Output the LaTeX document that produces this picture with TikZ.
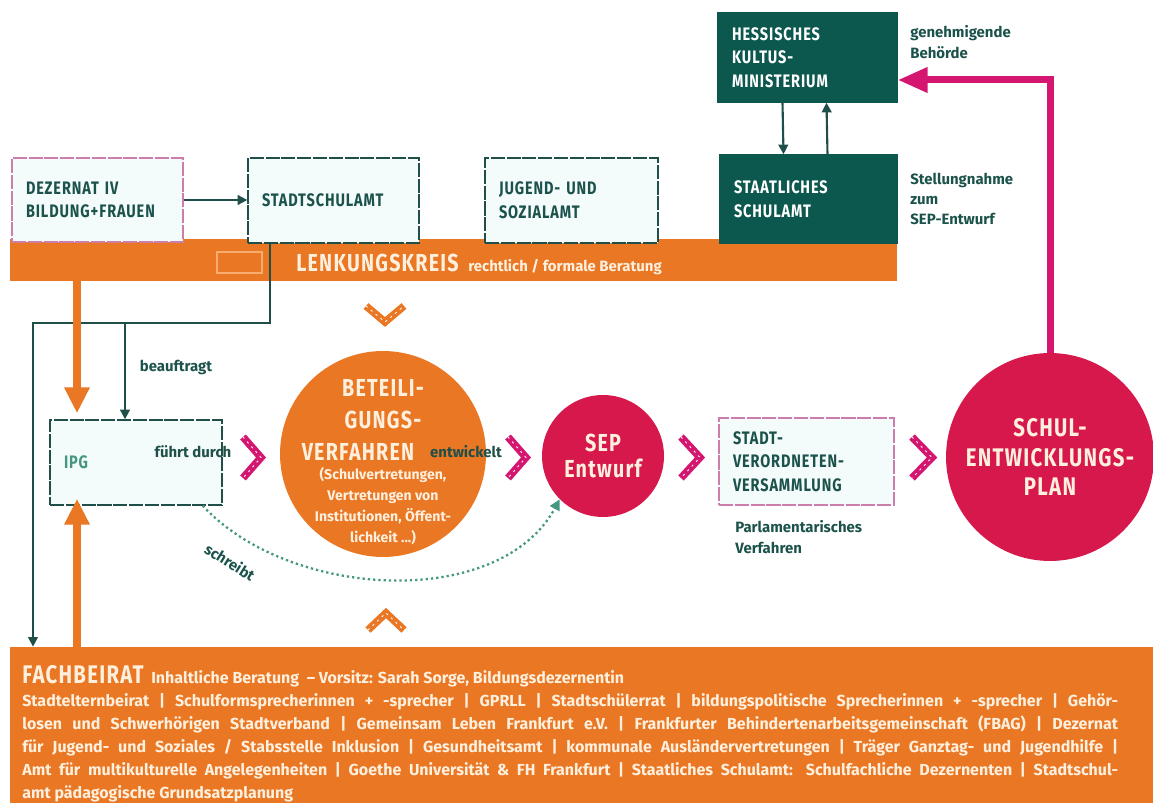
\documentclass[tikz,border=0pt]{standalone}
\usepackage{fontspec}
\setmainfont{Fira Sans}
\newfontfamily\kopffont[FakeStretch=0.8,LetterSpace=5]{Fira Sans}
\usetikzlibrary{arrows.meta}
\definecolor{orangeF}{RGB}{233,119,36}
\definecolor{tealdunkel}{RGB}{12,88,78}
\definecolor{teallinie}{RGB}{32,78,72}
\definecolor{tealtext}{RGB}{28,82,76}
\definecolor{tealhell}{RGB}{70,150,128}
\definecolor{magentaF}{RGB}{212,22,112}
\definecolor{rotF}{RGB}{214,24,76}
\definecolor{creme}{RGB}{255,240,222}
\definecolor{hellfill}{RGB}{243,251,251}
\definecolor{rosalinie}{RGB}{205,125,172}
\definecolor{orangehell}{RGB}{248,172,110}

\begin{document}
\begin{tikzpicture}[x=0.02cm,y=-0.02cm]
\tikzset{amt/.style={draw=teallinie, fill=hellfill, line width=0.8pt, dash pattern=on 8pt off 1pt, text=tealtext, align=left, inner xsep=0.28cm, text width=#1, font=\kopffont\bfseries\fontsize{10.3}{13.5}\selectfont},
amtdunkel/.style={amt=#1, fill=tealdunkel, draw=tealdunkel, solid, text=white},
balken/.style={fill=orangeF, inner sep=0pt},
kreis/.style={circle, inner sep=0pt, align=center, text=creme},
winkel/.style={line width=0.15cm, line join=miter, postaction={draw=white, line width=0.5pt, dash pattern=on 1.2pt off 2.4pt}},
verbinder/.style={draw=teallinie, line width=1.2pt, -{Triangle[width=5.5pt,length=5.5pt]}},
pfeilorange/.style={draw=orangeF, line width=0.16cm, -{Triangle[width=0.48cm,length=0.52cm]}},
planpfeil/.style={draw=magentaF, line width=0.14cm, -{Triangle[width=0.48cm,length=0.6cm]}},
schreibpfeil/.style={draw=tealhell, line width=1.3pt, dash pattern=on 1.3pt off 1.7pt, -{Triangle[width=6pt,length=6pt]}},
klein/.style={font=\bfseries\fontsize{8.5}{11.6}\selectfont, text=tealtext, align=left, inner sep=0pt}}
\useasboundingbox (0,0) rectangle (1153,803);

\node[balken, minimum width=17.74cm, minimum height=0.84cm] (lenk) at (453.5,260) {};
\draw[orangehell, line width=0.6pt] (217,252) rectangle (262,273);
\node[anchor=west, inner sep=0pt, text=creme, font=\kopffont\bfseries\fontsize{14}{16}\selectfont] (lenktitel) at (296,263) {LENKUNGSKREIS};
\node[anchor=base west, inner sep=0pt, text=creme, font=\bfseries\fontsize{8.5}{10}\selectfont] (lenkzusatz) at ([xshift=0.18cm]lenktitel.base east) {rechtlich / formale Beratung};
\node[balken, minimum width=22.86cm, minimum height=3.12cm] (fach) at (581.5,725) {};
\node[anchor=north west, text width=21.92cm, align=justify, inner sep=0pt, text=creme, font=\bfseries\fontsize{9.1}{13.1}\selectfont] (fachtext) at (22,665) {{\kopffont\fontsize{14.5}{13.1}\selectfont FACHBEIRAT}\ \ Inhaltliche Beratung \ – Vorsitz: Sarah Sorge, Bildungsdezernentin\\
Stadtelternbeirat | Schulformsprecherinnen + -sprecher | GPRLL | Stadtschülerrat | bildungspolitische Sprecherinnen + -sprecher | Gehör-\linebreak
losen und Schwerhörigen Stadtverband | Gemeinsam Leben Frankfurt e.V. | Frankfurter Behindertenarbeitsgemeinschaft (FBAG) | Dezernat\linebreak
für Jugend- und Soziales / Stabsstelle Inklusion | Gesundheitsamt | kommunale Ausländervertretungen | Träger Ganztag- und Jugendhilfe |\linebreak
Amt für multikulturelle Angelegenheiten | Goethe Universität \& FH Frankfurt | Staatliches Schulamt: Schulfachliche Dezernenten | Stadtschul-\linebreak
amt pädagogische Grundsatzplanung};

\node[amt=2.86cm, draw=rosalinie, minimum height=1.68cm] (dez) at (97.5,200) {DEZERNAT IV\\BILDUNG+FRAUEN};
\node[amt=2.86cm, minimum height=1.7cm] (ssa) at (333.5,200.5) {STADTSCHULAMT};
\node[amt=2.9cm, minimum height=1.7cm] (jsa) at (571.5,200.5) {JUGEND- UND\\SOZIALAMT};
\node[amtdunkel=2.98cm, minimum height=1.76cm] (staat) at (808.5,199) {STAATLICHES\\SCHULAMT};
\node[amtdunkel=3.02cm, minimum height=1.78cm] (hkm) at (807.5,57.5) {HESSISCHES\\KULTUS-\\MINISTERIUM};
\node[klein, anchor=west] (behoerde) at (910,42) {genehmigende\\Behörde};
\node[klein, anchor=west] (stellung) at (910,199) {Stellungnahme\\zum\\SEP-Entwurf};

\draw[verbinder] (dez.east) -- (dez.east -| ssa.west);
\draw[verbinder] ([xshift=-0.5cm]hkm.south) -- ([xshift=-0.5cm]staat.north);
\draw[verbinder] ([xshift=0.38cm]staat.north) -- ([xshift=0.38cm]hkm.south);

\node[amt=2.88cm, minimum height=1.7cm, text=tealhell] (ipg) at (136,462.5) {IPG};
\coordinate (knick) at (33,323);
\coordinate (abzweig) at (125,323);
\draw[verbinder] ([xshift=-1.27cm]ssa.south) |- (knick) -- (knick |- fach.north);
\draw[verbinder] (abzweig) -- (abzweig |- ipg.north);
\node[klein] (beauftragt) at (176,367) {beauftragt};
\coordinate (ostrang) at (77,350);
\draw[pfeilorange, shorten >=0.12cm] (ostrang |- lenk.south) -- (ostrang |- ipg.north);
\draw[pfeilorange, shorten >=-0.14cm] (ostrang |- fach.north) -- (ostrang |- ipg.south);

\node[kreis, fill=orangeF, minimum size=4.12cm] (beteil) at (383,454) {};
\node[text=creme, align=center, inner sep=0pt, font=\kopffont\bfseries\fontsize{14}{18.2}\selectfont] (beteiltitel) at (383,420) {BETEILI-\\GUNGS-\\VERFAHREN\hspace*{1cm}};
\node[text=creme, align=center, inner sep=0pt, font=\bfseries\fontsize{8}{12.1}\selectfont] (beteilzusatz) at (383,506) {(Schulvertretungen,\\Vertretungen von\\Institutionen, Öffent-\\lichkeit ...)};
\node[kreis, fill=rotF, minimum size=2.44cm, font=\kopffont\bfseries\fontsize{14}{14.5}\selectfont] (sep) at (603,456) {SEP\\Entwurf};
\node[amt=2.94cm, draw=rosalinie, minimum height=1.74cm] (svv) at (806.5,461.5) {STADT-\\VERORDNETEN-\\VERSAMMLUNG};
\node[klein, anchor=west] (parl) at (735,537) {Parlamentarisches\\Verfahren};
\node[kreis, fill=rotF, minimum size=4.16cm, font=\kopffont\bfseries\fontsize{14.5}{17}\selectfont] (plan) at (1050,457) {SCHUL-\\ENTWICKLUNGS-\\PLAN};

\node[klein, text=teallinie] (fuehrt) at (193,452) {führt durch};
\node[klein, text=teallinie] (entwickelt) at (466,452) {entwickelt};
\draw[schreibpfeil] ([xshift=-0.4cm]ipg.south east) .. controls (290,600) and (500,610) .. (sep.south west);
\node[klein, rotate=-32] (schreibt) at (230,562) {schreibt};
\draw[planpfeil] (plan.north) |- ([yshift=-0.45cm]hkm.east);

\draw[winkel, magentaF] (243,437) -- (261,457.5) -- (243,478);
\draw[winkel, magentaF] (508,437) -- (526,457.5) -- (508,478);
\draw[winkel, magentaF] (681,437) -- (700,457.5) -- (681,478);
\draw[winkel, magentaF] (912,437) -- (932,457.5) -- (912,478);
\draw[winkel, orangeF] (366,306) -- (385,322) -- (404,306);
\draw[winkel, orangeF] (368,630) -- (386,613) -- (404,630);
\end{tikzpicture}
\end{document}
